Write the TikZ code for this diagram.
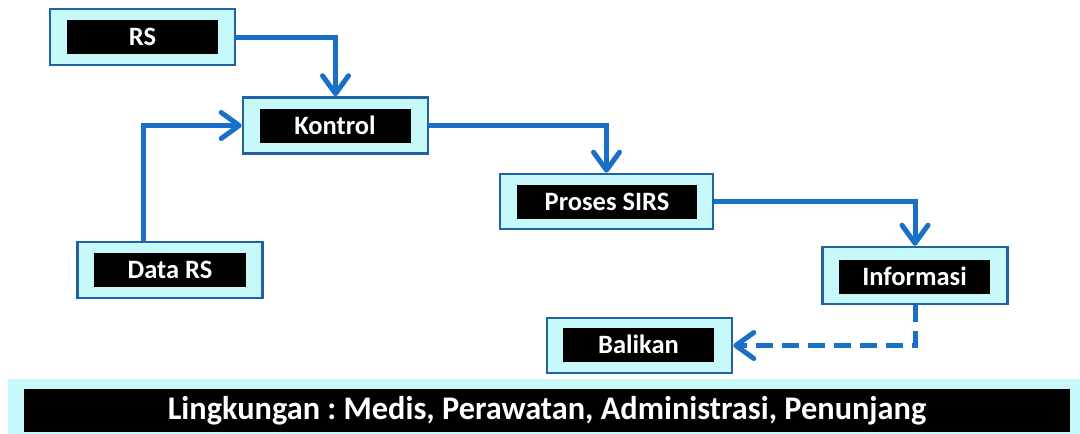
\documentclass[tikz,border=0pt]{standalone}
\usepackage{fontspec}
\setmainfont{Carlito}
\newfontfamily\barfont[FakeStretch=0.98]{Carlito}
\usetikzlibrary{arrows.meta,calc}
\definecolor{boxfill}{HTML}{C8F9FA}
\definecolor{boxline}{HTML}{2262A4}
\definecolor{linkblue}{HTML}{1A6FC9}
\tikzset{
  outerbox/.style={draw=boxline, line width=2.6pt, fill=boxfill, minimum width=185pt, minimum height=56pt, inner sep=0pt},
  innerbox/.style={fill=black, text=white, font=\bfseries\fontsize{26.5}{28}\selectfont, minimum width=151pt, minimum height=34pt, inner sep=0pt},
  link/.style={draw=linkblue, line width=5pt, -{Straight Barb[length=18pt,width=26pt,line cap=round,round]}},
}
\begin{document}
\frenchspacing
\begin{tikzpicture}[x=1pt,y=-1pt]
\useasboundingbox (0,0) rectangle (1080,434);

% process boxes
\node[outerbox] (rs) at (142.5,37) {};
\node[innerbox] (rsin) at (142.5,37) {RS};
\node[outerbox] (kontrol) at (335.5,125.5) {};
\node[innerbox] (kontrolin) at (335,125.5) {Kontrol};
\node[outerbox, minimum width=213pt, minimum height=55pt] (proses) at (606.5,201.5) {};
\node[innerbox, minimum width=180pt] (prosesin) at (607,202) {Proses SIRS};
\node[outerbox, minimum height=57pt] (info) at (915,275.5) {};
\node[innerbox] (infoin) at (914.5,276.5) {Informasi};
\node[outerbox, minimum height=55pt] (balikan) at (639.5,345.5) {};
\node[innerbox] (balikanin) at (638.5,344.5) {Balikan};
\node[outerbox] (data) at (170,270) {};
\node[innerbox, minimum width=152pt] (datain) at (170,270) {Data RS};

% environment bar
\fill[boxfill] (8,379) rectangle (1080,434);
\node[fill=black, text=white, minimum width=1046pt, minimum height=43pt, inner sep=0pt,
      font=\barfont\bfseries\fontsize{33}{35}\selectfont] (env) at (547,410.5)
  {Lingkungan : Medis, Perawatan, Administrasi, Penunjang};

% connectors
\coordinate (datatop) at ($(data.north)+(-27,0)$);
\draw[link] (rs.east) -| (kontrol.north);
\draw[link] (datatop) |- (kontrol.west);
\draw[link] (kontrol.east) -| (proses.north);
\draw[link] (proses.east) -| (info.north);
\draw[link, dash pattern=on 17pt off 9pt] (info.south) |- (balikan.east);
\end{tikzpicture}
\end{document}
